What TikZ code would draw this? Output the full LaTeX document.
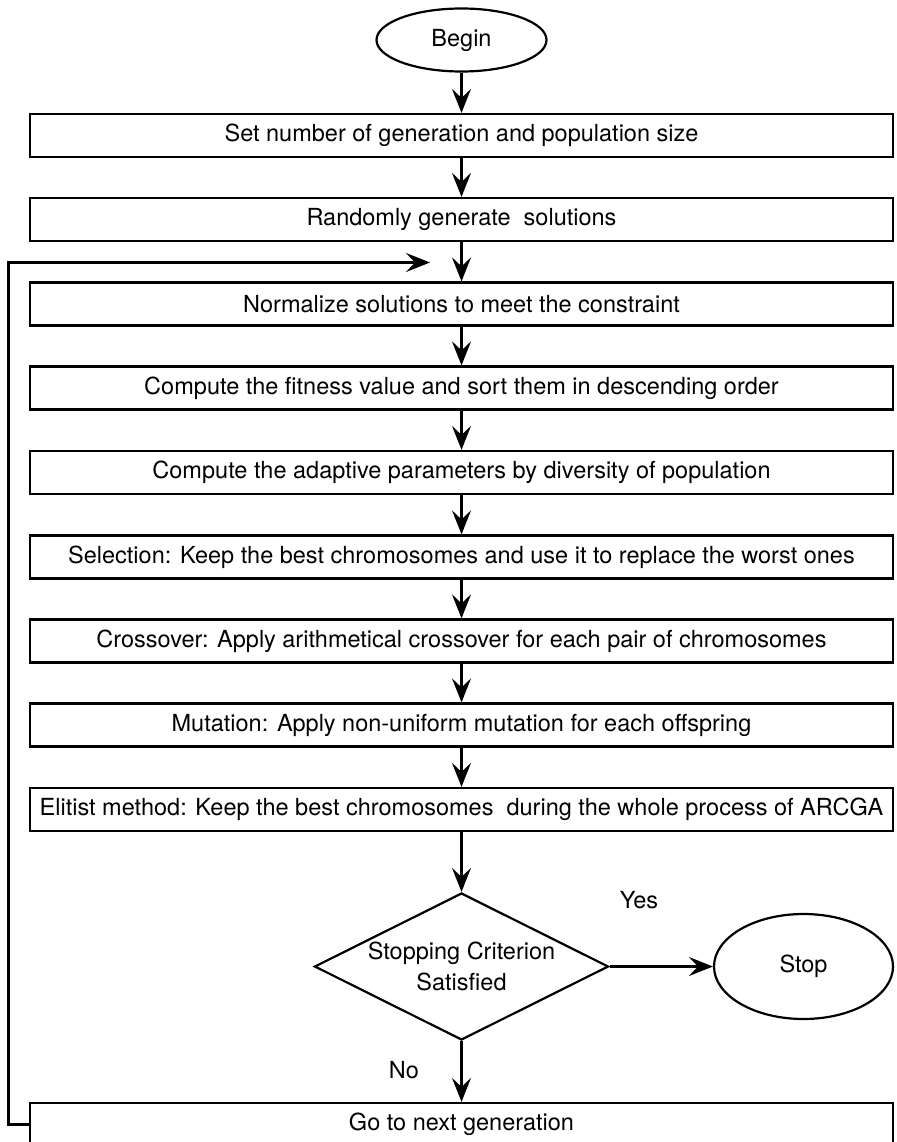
\documentclass[tikz,border=0pt]{standalone}
\usepackage{fontspec}
\setmainfont{TeX Gyre Heros}
\usepackage{tikz}
\usetikzlibrary{shapes.geometric, arrows.meta, positioning}

\begin{document}
\begin{tikzpicture}[x=1pt, y=-1pt, line width=2.2pt,
  font=\fontsize{23.5}{31}\selectfont,
  procbox/.style={draw, rectangle, minimum width=863pt, minimum height=43pt, inner sep=0pt},
  termnode/.style={draw, ellipse, inner sep=0pt},
  decision/.style={draw, diamond, minimum width=294pt, minimum height=147pt, inner sep=0pt},
  flowarrow/.style={-{Stealth[length=24pt, width=19pt, inset=9pt]}}]
  \useasboundingbox (0,0) rectangle (896,1142);

  % Start
  \node[termnode, minimum width=170pt, minimum height=63pt] (begin) at (461.5, 40) {Begin};

  % Initialisation
  \node[procbox] (setup) at (461.5, 135.5) {Set number of generation and population size};
  \node[procbox] (randgen) at (461.5, 219.5) {Randomly generate~ solutions};

  % Main loop
  \node[procbox] (normalize) at (461.5, 304) {Normalize solutions to meet the constraint};
  \node[procbox] (fitness) at (461.5, 388) {Compute the fitness value and sort them in descending order};
  \node[procbox] (adaptive) at (461.5, 472.5) {Compute the adaptive parameters by diversity of population};
  \node[procbox] (selection) at (461.5, 557) {Selection: Keep the best chromosomes and use it to replace the worst ones};
  \node[procbox] (crossover) at (461.5, 641) {Crossover: Apply arithmetical crossover for each pair of chromosomes};
  \node[procbox] (mutation) at (461.5, 725) {Mutation: Apply non-uniform mutation for each offspring};
  \node[procbox] (elitist) at (461.5, 809.5) {Elitist method: Keep the best chromosomes~ during the whole process of ARCGA};

  % Stopping test
  \node[decision] (criterion) at (461.5, 966.5) {};
  \node[align=center] (crittext) at (461.5, 966) {Stopping Criterion\\Satisfied};
  \node[termnode, minimum width=179pt, minimum height=105pt] (stop) at (803.5, 966.5) {Stop};
  \node (yeslbl) at (639, 900) {Yes};
  \node (nolbl) at (404, 1070) {No};
  \node[procbox] (nextgen) at (461.5, 1124.5) {Go to next generation};

  % Connectors
  \draw[flowarrow] (begin) -- (setup);
  \draw[flowarrow] (setup) -- (randgen);
  \draw[flowarrow] (randgen) -- (normalize);
  \draw[flowarrow] (normalize) -- (fitness);
  \draw[flowarrow] (fitness) -- (adaptive);
  \draw[flowarrow] (adaptive) -- (selection);
  \draw[flowarrow] (selection) -- (crossover);
  \draw[flowarrow] (crossover) -- (mutation);
  \draw[flowarrow] (mutation) -- (elitist);
  \draw[flowarrow] (elitist) -- (criterion);
  \draw[flowarrow] (criterion) -- (stop);
  \draw[flowarrow] (criterion) -- (nextgen);

  % Feedback loop
  \coordinate (loopin) at (430, 262.5);
  \draw[flowarrow] (nextgen.west) -- ++(-20.5,0) |- (loopin);
\end{tikzpicture}
\end{document}
